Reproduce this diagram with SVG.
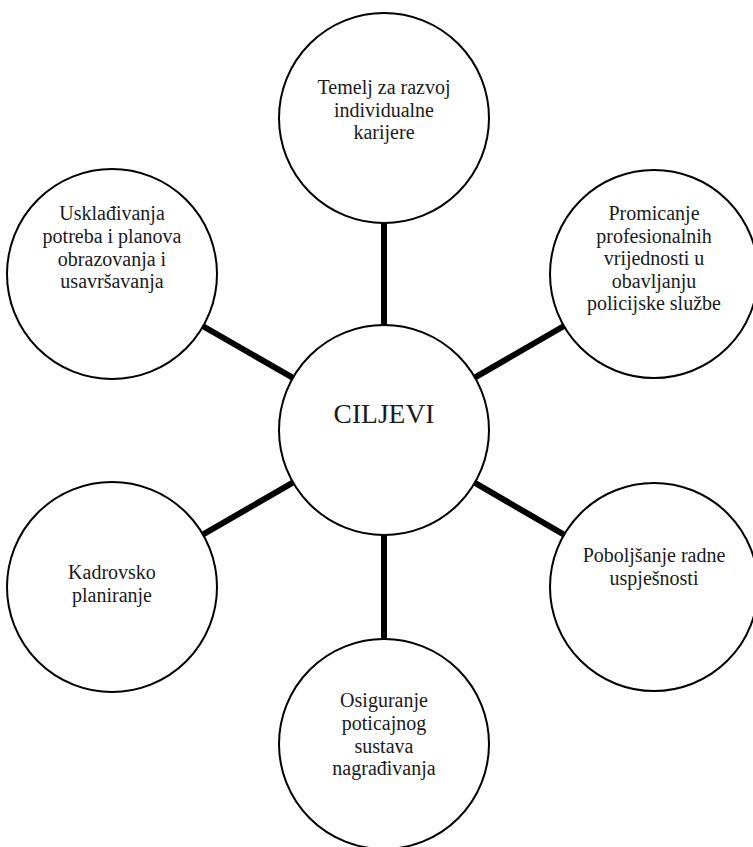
<svg xmlns="http://www.w3.org/2000/svg" width="753" height="847" viewBox="0 0 753 847">
<style>
.node circle{fill:#fff;stroke:#000;stroke-width:2}
.node text{font-family:"Liberation Serif","Times New Roman",serif;font-size:20px;fill:#1a1a1a;text-anchor:middle}
.conn line{stroke:#000;stroke-width:6}
</style>
<rect width="753" height="847" fill="#fff"/>
<g id="connectors" class="conn">
<line x1="384" y1="430" x2="384" y2="118"/>
<line x1="384" y1="430" x2="654" y2="274"/>
<line x1="384" y1="430" x2="654" y2="587"/>
<line x1="384" y1="430" x2="384" y2="744"/>
<line x1="384" y1="430" x2="112" y2="587"/>
<line x1="384" y1="430" x2="112" y2="274"/>
</g>
<g id="center" class="node">
<circle cx="384" cy="430" r="105"/>
<text x="384" y="423" style="font-size:27.5px">CILJEVI</text>
</g>
<g id="n-top" class="node">
<circle cx="384" cy="118" r="105"/>
<text x="384" y="94">Temelj za razvoj</text>
<text x="384" y="116.5">individualne</text>
<text x="384" y="139">karijere</text>
</g>
<g id="n-topright" class="node">
<circle cx="654" cy="274" r="104"/>
<text x="654" y="220">Promicanje</text>
<text x="654" y="242.5">profesionalnih</text>
<text x="654" y="265">vrijednosti u</text>
<text x="654" y="287.5">obavljanju</text>
<text x="654" y="310">policijske službe</text>
</g>
<g id="n-bottomright" class="node">
<circle cx="654" cy="587" r="104"/>
<text x="654" y="562">Poboljšanje radne</text>
<text x="654" y="585">uspješnosti</text>
</g>
<g id="n-bottom" class="node">
<circle cx="384" cy="744" r="105"/>
<text x="384" y="707">Osiguranje</text>
<text x="384" y="730">poticajnog</text>
<text x="384" y="752.5">sustava</text>
<text x="384" y="775">nagrađivanja</text>
</g>
<g id="n-bottomleft" class="node">
<circle cx="112" cy="587" r="105"/>
<text x="112" y="579">Kadrovsko</text>
<text x="112" y="602">planiranje</text>
</g>
<g id="n-topleft" class="node">
<circle cx="112" cy="274" r="105"/>
<text x="112" y="220">Usklađivanja</text>
<text x="112" y="243">potreba i planova</text>
<text x="112" y="265.5">obrazovanja i</text>
<text x="112" y="288">usavršavanja</text>
</g>
</svg>
